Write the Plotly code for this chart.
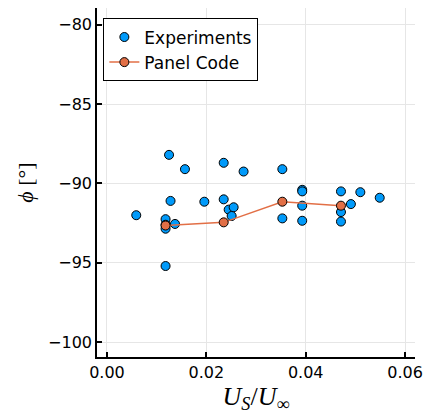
import plotly.graph_objects as go

# Experimental data
exp_x = [0.0059, 0.0125, 0.0157, 0.0235, 0.0275, 0.0128, 0.0196, 0.0235, 0.0245, 0.0255,
         0.0251, 0.0118, 0.0118, 0.0118, 0.0137, 0.0118, 0.0353, 0.0393, 0.0393, 0.0393,
         0.0393, 0.0353, 0.0471, 0.0510, 0.0549, 0.0491, 0.0471, 0.0471]
exp_y = [-92.0, -88.2, -89.1, -88.7, -89.25, -91.1, -91.15, -91.0, -91.65, -91.5,
         -92.05, -92.25, -92.85, -92.6, -92.55, -95.2, -89.1, -90.4, -90.5, -91.4,
         -92.35, -92.2, -90.5, -90.55, -90.9, -91.3, -91.8, -92.4]

# Panel code results
panel_x = [0.0118, 0.0235, 0.0353, 0.0471]
panel_y = [-92.65, -92.45, -91.15, -91.4]

x_ticks = [0.0, 0.02, 0.04, 0.06]
x_tick_labels = ["0.00", "0.02", "0.04", "0.06"]
y_ticks = [-80, -85, -90, -95, -100]
y_tick_labels = ["\u221280", "\u221285", "\u221290", "\u221295", "\u2212100"]

BLUE = "#009AFA"
ORANGE = "#E26F46"

fig = go.Figure()
fig.add_trace(go.Scatter(
    x=exp_x, y=exp_y, mode="markers", name="Experiments",
    marker=dict(color=BLUE, size=9, line=dict(color="black", width=1)),
))
fig.add_trace(go.Scatter(
    x=panel_x, y=panel_y, mode="lines+markers", name="Panel Code",
    line=dict(color=ORANGE, width=1.5),
    marker=dict(color=ORANGE, size=9, line=dict(color="black", width=1)),
))

axis_common = dict(
    showgrid=True, gridcolor="#e6e6e6", gridwidth=1,
    zeroline=False, showline=True, linecolor="black", linewidth=1.5,
    ticks="inside", ticklen=5, tickwidth=1.5, tickcolor="black",
    tickfont=dict(family="DejaVu Sans", size=16, color="black"),
    mirror=False,
)

fig.update_layout(
    width=431, height=414,
    margin=dict(l=97, r=11, t=8, b=57),
    paper_bgcolor="white", plot_bgcolor="white",
    showlegend=True,
    legend=dict(
        x=0.02, y=0.97, xanchor="left", yanchor="top",
        bgcolor="white", bordercolor="black", borderwidth=1,
        font=dict(family="DejaVu Sans", size=17, color="black"),
        tracegroupgap=0, itemwidth=30,
    ),
    xaxis=dict(
        range=[-0.002, 0.062], tickvals=x_ticks, ticktext=x_tick_labels,
        title=dict(text="<i>U</i><sub><i>S</i></sub>/<i>U</i><sub>\u221e</sub>",
                   font=dict(family="Liberation Serif", size=26, color="black"), standoff=4),
        **axis_common,
    ),
    yaxis=dict(
        range=[-100.93, -78.95], tickvals=y_ticks, ticktext=y_tick_labels,
        title=dict(text="<i>\u03d5</i> [\u00b0]",
                   font=dict(family="Liberation Serif", size=22, color="black"), standoff=8),
        **axis_common,
    ),
)

fig.write_html(
    "out.html",
    config={"displayModeBar": False},
    post_script="document.body.style.margin='0';document.body.style.overflow='hidden';",
)
